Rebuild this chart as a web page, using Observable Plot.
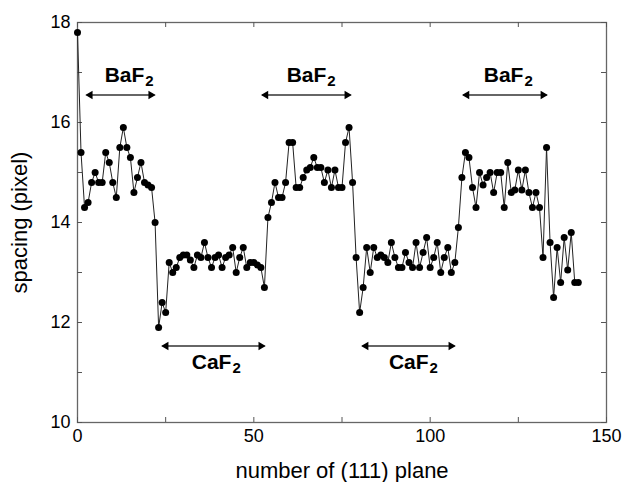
<!DOCTYPE html>
<html>
<head>
<meta charset="utf-8">
<script src="https://cdn.jsdelivr.net/npm/d3@7"></script>
<script src="https://cdn.jsdelivr.net/npm/@observablehq/plot@0.6"></script>
<style>
  html, body { margin: 0; padding: 0; background: #fff; }
  #chart { width: 626px; height: 482px; }
</style>
</head>
<body>
<div id="chart"></div>
<script>
// spacing values for planes 0..142
const spacing = [
  17.8, 15.4, 14.3, 14.4, 14.8, 15.0, 14.8, 14.8, 15.4, 15.2,
  14.8, 14.5, 15.5, 15.9, 15.5, 15.3, 14.6, 14.9, 15.2, 14.8,
  14.75, 14.7, 14.0, 11.9, 12.4, 12.2, 13.2, 13.0, 13.1, 13.3,
  13.35, 13.35, 13.25, 13.1, 13.35, 13.3, 13.6, 13.3, 13.1, 13.3,
  13.35, 13.1, 13.3, 13.35, 13.5, 13.0, 13.3, 13.5, 13.1, 13.2,
  13.2, 13.15, 13.1, 12.7, 14.1, 14.4, 14.8, 14.5, 14.5, 14.8,
  15.6, 15.6, 14.7, 14.7, 14.9, 15.05, 15.1, 15.3, 15.1, 15.1,
  14.8, 15.05, 14.7, 15.05, 14.7, 14.7, 15.6, 15.9, 14.8, 13.3,
  12.2, 12.7, 13.5, 13.0, 13.5, 13.3, 13.35, 13.3, 13.2, 13.6,
  13.3, 13.1, 13.1, 13.4, 13.2, 13.1, 13.6, 13.1, 13.4, 13.7,
  13.1, 13.3, 13.6, 13.0, 13.3, 13.5, 13.0, 13.2, 13.9, 14.9,
  15.4, 15.3, 14.7, 14.3, 15.0, 14.75, 14.9, 15.0, 14.6, 15.0,
  15.0, 14.3, 15.2, 14.6, 14.65, 15.05, 14.65, 15.05, 14.6, 14.3,
  14.6, 14.3, 13.3, 15.5, 13.6, 12.5, 13.5, 12.8, 13.7, 13.05,
  13.8, 12.8, 12.8
];
const planes = spacing.map((_, i) => i);

const xTickLabels = [0, 50, 100, 150];
const xTickMarks = [0, 25, 50, 75, 100, 125, 150];
const yTickLabels = [10, 12, 14, 16, 18];
const yTickMarks = [10, 11, 12, 13, 14, 15, 16, 17, 18];

// region annotations (double-headed arrows + labels)
const baStart = [2.6, 52.4, 109.4];
const baEnd = [21.8, 77.4, 133.0];
const baLabelX = [14.7, 66.3, 122.2];
const baArrowY = 16.55;
const baLabelY = 16.95;

const caStart = [24.1, 80.8];
const caEnd = [53.0, 106.9];
const caLabelX = [39.4, 95.3];
const caArrowY = 11.53;
const caLabelY = 11.2;

const data = planes.map((p, i) => ({plane: p, spacing: spacing[i]}));
const ba = baStart.map((s, i) => ({x1: s, x2: baEnd[i], xl: baLabelX[i], y: baArrowY, yl: baLabelY, name: "BaF"}));
const ca = caStart.map((s, i) => ({x1: s, x2: caEnd[i], xl: caLabelX[i], y: caArrowY, yl: caLabelY, name: "CaF"}));
const regions = ba.concat(ca);

const W = 626, H = 482, mL = 77, mR = 20, mT = 22, mB = 60;
const innerW = W - mL - mR, innerH = H - mT - mB;
const font = "Liberation Sans, Arial, Helvetica, sans-serif";

const chart = Plot.plot({
  width: W,
  height: H,
  marginLeft: mL,
  marginRight: mR,
  marginTop: mT,
  marginBottom: mB,
  style: {fontFamily: font, background: "#fff", color: "#000"},
  x: {domain: [0, 150]},
  y: {domain: [10, 18]},
  marks: [
    Plot.frame({stroke: "#666", strokeWidth: 1.3}),
    // inward tick marks
    Plot.tickX(xTickMarks, {x: d => d, insetTop: innerH - 5, stroke: "#555"}),
    Plot.tickX(xTickMarks, {x: d => d, insetBottom: innerH - 5, stroke: "#555"}),
    Plot.tickY(yTickMarks, {y: d => d, insetRight: innerW - 5, stroke: "#555"}),
    Plot.tickY(yTickMarks, {y: d => d, insetLeft: innerW - 5, stroke: "#555"}),
    Plot.axisX({
      ticks: xTickLabels, tickSize: 0, tickPadding: 7, fontSize: 18,
      label: "number of (111) plane", labelAnchor: "center", labelOffset: 55, labelArrow: "none"
    }),
    Plot.axisY({
      ticks: yTickLabels, tickSize: 0, tickPadding: 7, fontSize: 18,
      label: "spacing (pixel)", labelAnchor: "center", labelOffset: 66, labelArrow: "none"
    }),
    // data
    Plot.line(data, {x: "plane", y: "spacing", stroke: "#222", strokeWidth: 1}),
    Plot.dot(data, {x: "plane", y: "spacing", r: 3.5, fill: "#000", stroke: "none"}),
    // arrows
    Plot.link(regions, {x1: "x1", x2: "x2", y1: "y", y2: "y", stroke: "#333", strokeWidth: 1.6}),
    Plot.dot(regions, {x: "x1", y: "y", symbol: "triangle2", r: 4, rotate: -90, fill: "#000", dx: 3.5}),
    Plot.dot(regions, {x: "x2", y: "y", symbol: "triangle2", r: 4, rotate: 90, fill: "#000", dx: -3.5}),
    // labels with subscript
    Plot.text(regions, {x: "xl", y: "yl", text: "name", textAnchor: "end", dx: 15, fontSize: 21, fontWeight: "bold", fill: "#000"}),
    Plot.text(regions, {x: "xl", y: "yl", text: d => "2", textAnchor: "start", dx: 16, dy: 6, fontSize: 15, fontWeight: "bold", fill: "#000"})
  ]
});

chart.querySelectorAll("[aria-label='x-axis label'] text, [aria-label='y-axis label'] text").forEach(t => t.setAttribute("font-size", "22"));
document.getElementById("chart").appendChild(chart);
</script>
</body>
</html>
